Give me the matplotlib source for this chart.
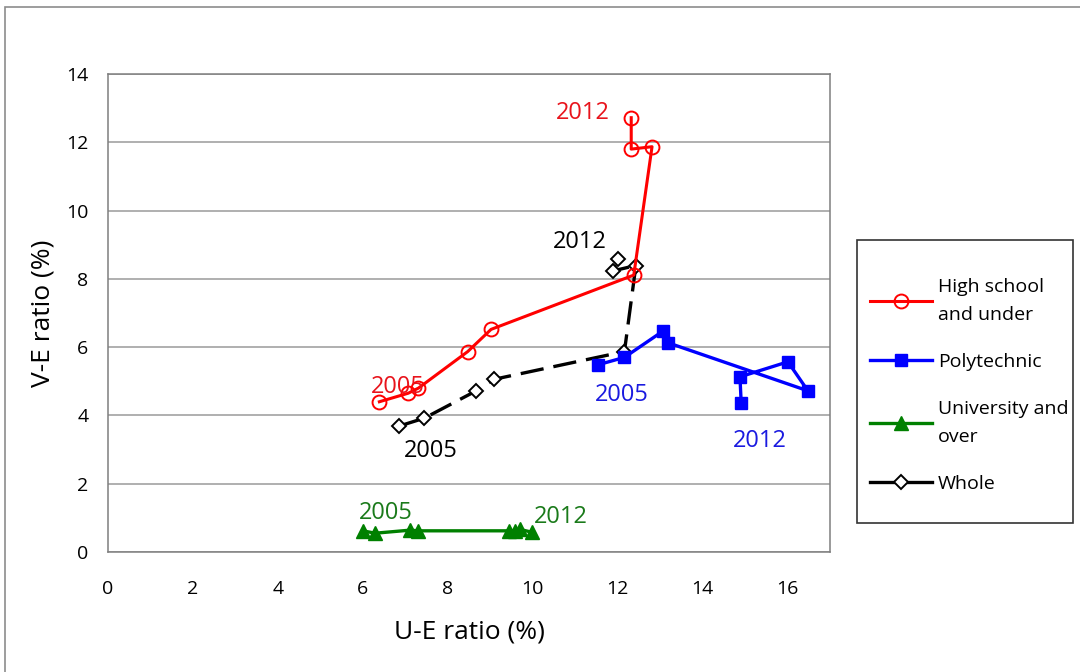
import matplotlib
matplotlib.use("Agg")
import matplotlib.pyplot as plt
from matplotlib.patches import Rectangle
from matplotlib.lines import Line2D

plt.rcParams["font.family"] = ["Open Sans", "DejaVu Sans"]

# U-E ratio (x) and V-E ratio (y), 2005 -> 2012 for each group
high_x = [6.39, 7.07, 7.31, 8.47, 9.02, 12.38, 12.81, 12.32, 12.32]
high_y = [4.40, 4.65, 4.80, 5.87, 6.52, 8.11, 11.87, 11.80, 12.72]

poly_x = [11.53, 12.16, 13.08, 13.18, 16.48, 16.01, 14.88, 14.91]
poly_y = [5.48, 5.70, 6.48, 6.13, 4.72, 5.57, 5.13, 4.35]

univ_x = [6.00, 6.29, 7.12, 7.29, 9.45, 9.58, 9.70, 9.98]
univ_y = [0.62, 0.55, 0.64, 0.62, 0.62, 0.62, 0.66, 0.58]

whole_x = [6.86, 7.45, 8.67, 9.10, 12.16, 12.43, 11.88, 12.01]
whole_y = [3.69, 3.92, 4.72, 5.06, 5.87, 8.39, 8.23, 8.58]

legend_labels = ["High school\nand under", "Polytechnic", "University and\nover", "Whole"]

# year annotations: (text, x, y, colour)
year_notes = [
    ("2012", 11.19, 12.86, "#e8141c"),
    ("2005", 6.83, 4.83, "#e8141c"),
    ("2012", 11.12, 9.08, "black"),
    ("2005", 7.59, 2.96, "black"),
    ("2005", 12.11, 4.60, "#1a1ae0"),
    ("2012", 15.34, 3.25, "#1a1ae0"),
    ("2005", 6.55, 1.14, "#1a7a1a"),
    ("2012", 10.67, 1.02, "#1a7a1a"),
]

fig = plt.figure(figsize=(10.8, 6.72), dpi=100)
fig.patches.append(Rectangle((5 / 1080, -0.05), 1.2, 1 - 7 / 672 + 0.05,
                             transform=fig.transFigure, fill=False,
                             edgecolor="#8c8c8c", lw=1.2))

ax = fig.add_axes([0.1, 0.1786, 0.6685, 0.7113])

ax.plot(whole_x, whole_y, color="black", lw=2.4, ls=(0, (7, 3)),
        marker="D", ms=7, mfc="white", mec="black", mew=1.4, zorder=3)
ax.plot(high_x, high_y, color="#ff0000", lw=2.2, marker="o", ms=10,
        mfc="none", mec="#ff0000", mew=1.4, zorder=4)
ax.plot(poly_x, poly_y, color="#0000ff", lw=2.4, marker="s", ms=8,
        mfc="#0000ff", mec="#0000ff", zorder=3)
ax.plot(univ_x, univ_y, color="#008000", lw=2.4, marker="^", ms=10,
        mfc="#008000", mec="#008000", zorder=3)

for txt, x, y, c in year_notes:
    ax.text(x, y, txt, color=c, fontsize=17, ha="center", va="center", zorder=5)

ax.set_xlim(0, 17)
ax.set_ylim(0, 14)
ax.set_xticks(range(0, 17, 2))
ax.set_yticks(range(0, 15, 2))
ax.tick_params(length=0, labelsize=14, pad=20)
ax.tick_params(axis="y", pad=14)
ax.yaxis.grid(True, color="#9a9a9a", lw=1.1)
ax.set_axisbelow(True)
for s in ax.spines.values():
    s.set_color("#7f7f7f")
    s.set_linewidth(1.1)

ax.set_xlabel("U-E ratio (%)", fontsize=19, labelpad=16)
ax.set_ylabel("V-E ratio (%)", fontsize=19, labelpad=8)

# legend: frame drawn separately so its size is fixed
fig.patches.append(Rectangle((857 / 1080, 1 - 523 / 672), 216 / 1080, 283 / 672,
                             transform=fig.transFigure, fill=False,
                             edgecolor="#333333", lw=1.2))
handles = [
    Line2D([], [], color="#ff0000", lw=2.2, marker="o", ms=10, mfc="none", mew=1.4),
    Line2D([], [], color="#0000ff", lw=2.4, marker="s", ms=8),
    Line2D([], [], color="#008000", lw=2.4, marker="^", ms=10),
    Line2D([], [], color="black", lw=2.4, marker="D", ms=7, mfc="white", mew=1.4),
]
leg = fig.legend(handles, legend_labels, loc="upper left",
                 bbox_to_anchor=(862 / 1080, 1 - 270 / 672), frameon=False,
                 fontsize=14, handlelength=3.2, handletextpad=0.3,
                 labelspacing=1.5, borderaxespad=0)
for t in leg.get_texts():
    t.set_linespacing(1.7)

fig.savefig("out.png", dpi=100)
